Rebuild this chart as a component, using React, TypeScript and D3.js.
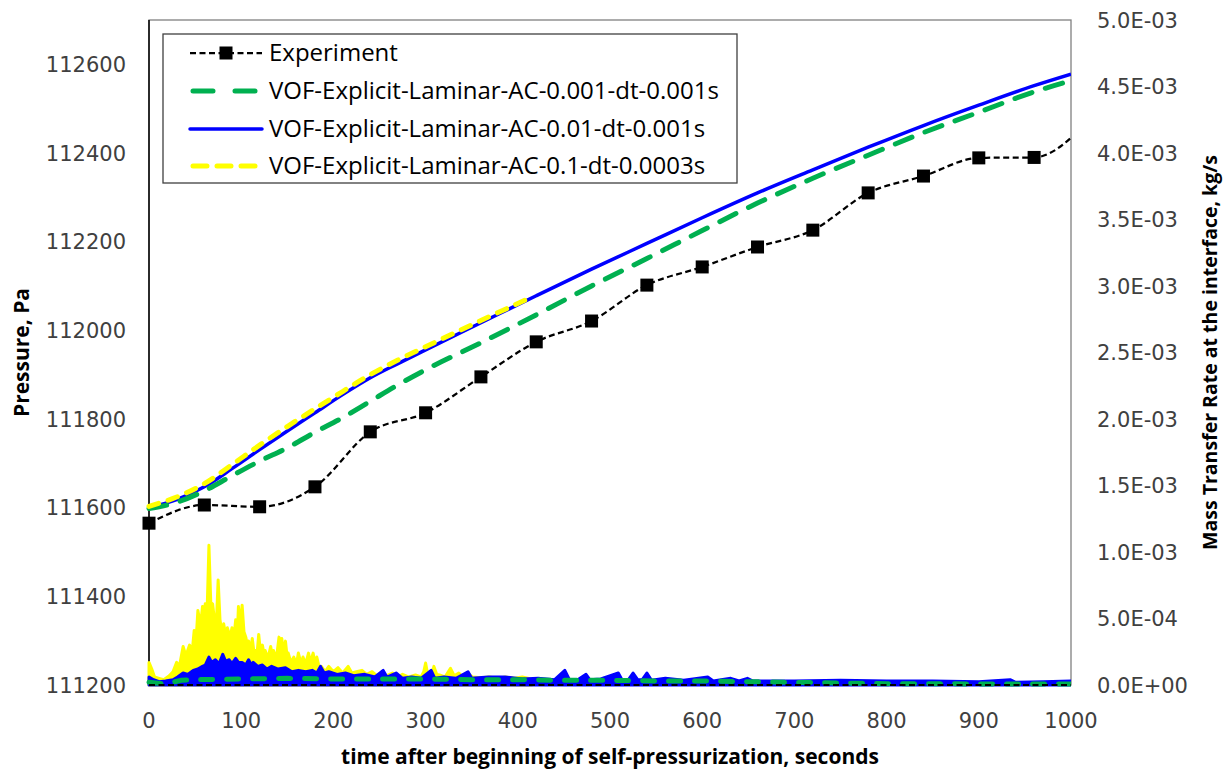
import React from "react";
import * as d3 from "d3";

// ---------- DATA ----------
const expTime = [0, 60, 120, 180, 240, 300, 360, 420, 480, 540, 600, 660, 720, 780, 840, 900, 960, 1020];
const expPressure = [111565, 111606, 111602, 111647, 111771, 111814, 111895, 111974, 112021, 112102, 112143, 112188, 112226, 112310, 112348, 112389, 112390, 112475];

const simTime = [0, 30, 60, 90, 120, 150, 180, 210, 240, 270, 300, 360, 420, 480, 540, 600, 660, 720, 780, 840, 900, 960, 1000];
const pressureAC001 = [111598, 111612, 111638, 111672, 111705, 111735, 111770, 111803, 111840, 111877, 111911, 111972, 112035, 112100, 112162, 112225, 112287, 112343, 112395, 112446, 112492, 112538, 112563];
const pressureAC01 = [111600, 111618, 111647, 111688, 111731, 111773, 111814, 111855, 111893, 111925, 111956, 112017, 112078, 112138, 112196, 112254, 112310, 112362, 112413, 112462, 112508, 112552, 112578];

const yellowTime = [0, 30, 60, 90, 120, 150, 180, 210, 240, 270, 300, 360, 415];
const pressureAC1 = [111603, 111624, 111654, 111697, 111741, 111783, 111823, 111862, 111900, 111933, 111963, 112022, 112075];

// mass transfer rate (units of 1E-3 kg/s)
const massYellowTime = [0, 3, 6, 11, 16, 22, 26, 30, 33, 37, 40, 44, 47, 49, 51, 53, 56, 58, 60, 61, 63, 65, 67, 69, 71, 73, 75, 77, 79, 81, 83, 85, 88, 90, 92, 94, 96, 97, 99, 101, 103, 105, 107, 108, 110, 112, 114, 115, 117, 119, 121, 123, 125, 126, 129, 132, 134, 135, 138, 141, 143, 144, 146, 148, 150, 151, 154, 157, 160, 162, 165, 167, 170, 173, 175, 178, 180, 182, 185, 187, 191, 195, 200, 205, 210, 216, 220, 225, 231, 236, 242, 247, 253, 258, 264, 270, 275, 282, 289, 295, 298, 300, 302, 304, 307, 309, 312, 315, 321, 327, 331, 336, 340, 345, 351, 360, 369, 378, 387, 396, 405, 412, 415];
const massYellow = [0.17, 0.12, 0.06, 0.05, 0.04, 0.07, 0.10, 0.17, 0.14, 0.29, 0.22, 0.30, 0.26, 0.41, 0.33, 0.56, 0.45, 0.59, 0.50, 0.61, 0.55, 1.05, 0.62, 0.61, 0.49, 0.45, 0.79, 0.49, 0.40, 0.46, 0.38, 0.43, 0.36, 0.43, 0.35, 0.49, 0.42, 0.59, 0.45, 0.60, 0.40, 0.36, 0.28, 0.33, 0.25, 0.35, 0.24, 0.26, 0.22, 0.38, 0.24, 0.30, 0.22, 0.26, 0.20, 0.29, 0.20, 0.26, 0.19, 0.36, 0.25, 0.35, 0.24, 0.33, 0.20, 0.24, 0.17, 0.21, 0.16, 0.24, 0.16, 0.21, 0.16, 0.24, 0.17, 0.24, 0.16, 0.21, 0.12, 0.14, 0.10, 0.14, 0.10, 0.13, 0.09, 0.14, 0.09, 0.10, 0.11, 0.08, 0.10, 0.07, 0.09, 0.07, 0.09, 0.06, 0.08, 0.06, 0.075, 0.06, 0.10, 0.165, 0.09, 0.075, 0.09, 0.14, 0.08, 0.075, 0.06, 0.125, 0.07, 0.09, 0.06, 0.09, 0.06, 0.055, 0.06, 0.05, 0.06, 0.05, 0.06, 0.05, 0.04];

const massBlueTime = [0, 5, 11, 18, 26, 31, 37, 42, 48, 53, 58, 61, 65, 68, 72, 76, 80, 83, 87, 90, 94, 97, 101, 105, 108, 111, 113, 118, 123, 128, 133, 140, 148, 155, 162, 170, 177, 182, 186, 190, 195, 204, 213, 222, 234, 245, 254, 258, 268, 275, 285, 295, 306, 310, 320, 333, 346, 350, 368, 386, 405, 422, 440, 451, 456, 465, 474, 478, 490, 509, 513, 520, 525, 530, 535, 540, 545, 560, 580, 606, 612, 631, 640, 649, 655, 700, 750, 800, 850, 900, 934, 940, 970, 1000];
const massBlue = [0.06, 0.04, 0.025, 0.03, 0.04, 0.06, 0.09, 0.08, 0.11, 0.12, 0.14, 0.15, 0.21, 0.17, 0.19, 0.16, 0.23, 0.18, 0.19, 0.16, 0.20, 0.17, 0.17, 0.15, 0.19, 0.15, 0.17, 0.14, 0.15, 0.12, 0.14, 0.12, 0.13, 0.10, 0.11, 0.10, 0.11, 0.09, 0.14, 0.09, 0.10, 0.08, 0.09, 0.07, 0.08, 0.06, 0.11, 0.06, 0.09, 0.05, 0.06, 0.05, 0.11, 0.05, 0.06, 0.05, 0.10, 0.05, 0.06, 0.06, 0.045, 0.05, 0.04, 0.11, 0.04, 0.04, 0.08, 0.04, 0.045, 0.09, 0.04, 0.04, 0.09, 0.04, 0.04, 0.09, 0.035, 0.05, 0.035, 0.06, 0.03, 0.05, 0.03, 0.05, 0.03, 0.03, 0.035, 0.03, 0.03, 0.025, 0.04, 0.02, 0.025, 0.03];

const massGreenTime = [0, 15, 25, 35, 50, 100, 150, 200, 250, 300, 350, 400, 450, 500, 550, 600, 650, 700, 750, 800, 900, 1000];
const massGreen = [0.02, 0.01, 0.02, 0.035, 0.04, 0.045, 0.05, 0.045, 0.045, 0.045, 0.04, 0.04, 0.035, 0.035, 0.03, 0.03, 0.025, 0.02, 0.015, 0.01, 0.008, 0.008];

const massExpTime = [0, 1000];
const massExp = [0, 0];

const xTicks = [0, 100, 200, 300, 400, 500, 600, 700, 800, 900, 1000];
const yLeftTicks = [111200, 111400, 111600, 111800, 112000, 112200, 112400, 112600];
const yRightTicks = [0, 0.5, 1.0, 1.5, 2.0, 2.5, 3.0, 3.5, 4.0, 4.5, 5.0];

const legendLabels = [
  "Experiment",
  "VOF-Explicit-Laminar-AC-0.001-dt-0.001s",
  "VOF-Explicit-Laminar-AC-0.01-dt-0.001s",
  "VOF-Explicit-Laminar-AC-0.1-dt-0.0003s",
];

// ---------- LAYOUT ----------
const W = 1225, H = 775;
const L = 149, R = 1071, T = 20, B = 685;

const GREEN = "#00B050";
const BLUE = "#0000FF";
const YELLOW = "#FFFF00";

const tickFont = "'DejaVu Sans', sans-serif";
const titleFont = "'Open Sans', sans-serif";

export default function App() {
  const x = d3.scaleLinear().domain([0, 1000]).range([L, R]);
  const yL = d3.scaleLinear().domain([111200, 112700]).range([B, T]);
  const yR = d3.scaleLinear().domain([0, 5.0]).range([B, T]);

  const zip = (a: number[], b: number[]) => a.map((t, i) => [t, b[i]] as [number, number]);

  const lineL = d3.line<[number, number]>().x((d) => x(d[0])).y((d) => yL(d[1])).curve(d3.curveMonotoneX);
  const lineR = d3.line<[number, number]>().x((d) => x(d[0])).y((d) => yR(d[1]));
  const areaR = d3.area<[number, number]>().x((d) => x(d[0])).y0(yR(0)).y1((d) => yR(d[1]));

  const exp = zip(expTime, expPressure);
  const yel = zip(massYellowTime, massYellow);
  const blu = zip(massBlueTime, massBlue);

  const legendRows = [53, 91, 129, 166];
  const lx0 = 190, lx1 = 262, ltx = 269;

  const fmtRight = (v: number) =>
    (v / 1000).toExponential(1).replace("e", "E").replace(/E([+-])(\d)$/, "E$10$2");

  return (
    <div style={{ position: "absolute", left: 0, top: 0 }}>
      <svg width={W} height={H} style={{ display: "block", background: "#fff" }}>
        <defs>
          <clipPath id="plotclip">
            <rect x={0} y={0} width={R} height={H} />
          </clipPath>
        </defs>
        {/* plot border */}
        <rect x={L} y={T} width={R - L} height={B - T} fill="none" stroke="#808080" strokeWidth={1.3} />
        <line x1={L} y1={T} x2={L} y2={B} stroke="#000" strokeWidth={1.5} />
        <line x1={L} y1={B} x2={R} y2={B} stroke="#000" strokeWidth={1.5} />

        {/* mass transfer rate (secondary axis) */}
        <g clipPath="url(#plotclip)">
          <path d={areaR(yel) || ""} fill={YELLOW} stroke={YELLOW} strokeWidth={3} strokeLinejoin="round" />
          <path d={areaR(blu) || ""} fill={BLUE} stroke={BLUE} strokeWidth={3} strokeLinejoin="round" />
          <path d={lineR(zip(massGreenTime, massGreen)) || ""} fill="none" stroke={GREEN} strokeWidth={5} strokeDasharray="12 14" strokeLinecap="round" />
          <path d={lineR(zip(massExpTime, massExp)) || ""} fill="none" stroke="#000" strokeWidth={2} strokeDasharray="6 3.5" />
        </g>

        {/* pressure */}
        <g clipPath="url(#plotclip)">
          <path d={lineL(zip(simTime, pressureAC01)) || ""} fill="none" stroke={BLUE} strokeWidth={3.5} />
          <path d={lineL(zip(simTime, pressureAC001)) || ""} fill="none" stroke={GREEN} strokeWidth={5} strokeDasharray="18 14" strokeLinecap="round" />
          <path d={lineL(zip(yellowTime, pressureAC1)) || ""} fill="none" stroke={YELLOW} strokeWidth={5} strokeDasharray="10 10" strokeLinecap="round" />
          <path d={lineL(exp) || ""} fill="none" stroke="#000" strokeWidth={2.25} strokeDasharray="6 3.5" />
          {exp.filter((d) => d[0] <= 1000).map((d, i) => (
            <rect key={i} x={x(d[0]) - 6.5} y={yL(d[1]) - 6.5} width={13} height={13} fill="#000" />
          ))}
        </g>

        {/* left ticks */}
        {yLeftTicks.map((v) => (
          <text key={v} x={L - 23} y={yL(v)} dy="0.36em" textAnchor="end" fontFamily={tickFont} fontSize={21} fill="#404040">
            {v}
          </text>
        ))}
        {/* right ticks */}
        {yRightTicks.map((v) => (
          <text key={v} x={R + 26} y={yR(v)} dy="0.36em" textAnchor="start" fontFamily={tickFont} fontSize={21} fill="#404040">
            {fmtRight(v)}
          </text>
        ))}
        {/* x ticks */}
        {xTicks.map((v) => (
          <text key={v} x={x(v)} y={B + 35} dy="0.36em" textAnchor="middle" fontFamily={tickFont} fontSize={21} fill="#404040">
            {v}
          </text>
        ))}

        {/* axis titles */}
        <text transform={`translate(29, ${(T + B) / 2}) rotate(-90)`} textAnchor="middle" fontFamily={titleFont} fontWeight={700} fontSize={21} fill="#000">
          Pressure, Pa
        </text>
        <text transform={`translate(1217, ${(T + B) / 2}) rotate(-90)`} textAnchor="middle" fontFamily={titleFont} fontWeight={700} fontSize={19.5} fill="#000">
          Mass Transfer Rate at the interface, kg/s
        </text>
        <text x={(L + R) / 2} y={764} textAnchor="middle" fontFamily={titleFont} fontWeight={700} fontSize={21} fill="#000">
          time after beginning of self-pressurization, seconds
        </text>

        {/* legend */}
        <rect x={163} y={34} width={574} height={149} fill="#fff" stroke="#404040" strokeWidth={1.3} />
        <line x1={lx0} y1={legendRows[0]} x2={lx1} y2={legendRows[0]} stroke="#000" strokeWidth={2.25} strokeDasharray="6 3.5" />
        <rect x={(lx0 + lx1) / 2 - 6.5} y={legendRows[0] - 6.5} width={13} height={13} fill="#000" />
        <line x1={lx0 + 3} y1={legendRows[1]} x2={lx1 - 3} y2={legendRows[1]} stroke={GREEN} strokeWidth={5} strokeDasharray="20 22" strokeLinecap="round" />
        <line x1={lx0} y1={legendRows[2]} x2={lx1} y2={legendRows[2]} stroke={BLUE} strokeWidth={3.5} strokeLinecap="round" />
        <line x1={lx0 + 3} y1={legendRows[3]} x2={lx1 - 3} y2={legendRows[3]} stroke={YELLOW} strokeWidth={5} strokeDasharray="14 10" strokeLinecap="round" />
        {legendLabels.map((s, i) => (
          <text key={s} x={ltx} y={legendRows[i]} dy="0.35em" fontFamily={titleFont} fontSize={24} fill="#000">
            {s}
          </text>
        ))}
      </svg>
    </div>
  );
}
